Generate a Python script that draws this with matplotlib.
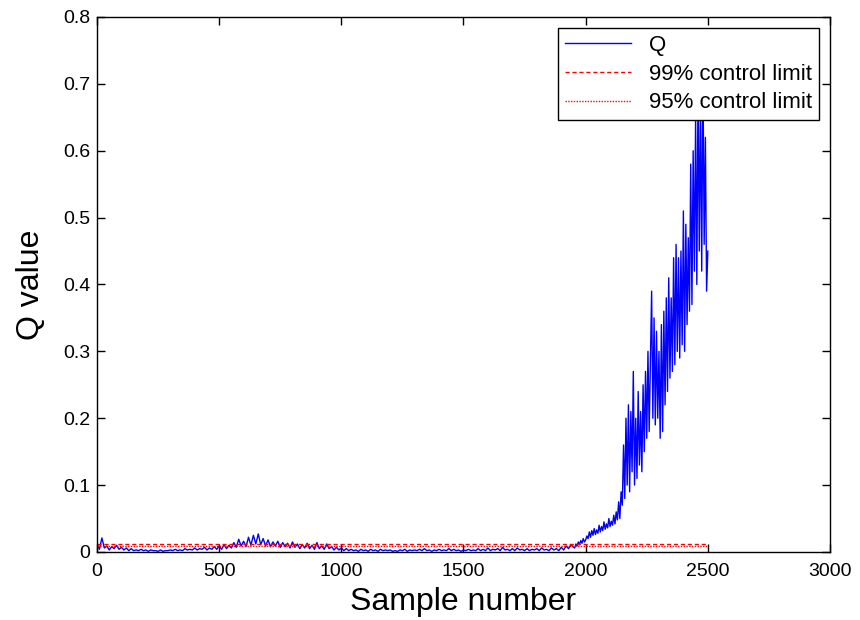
import numpy as np
import matplotlib
matplotlib.use("Agg")
import matplotlib.pyplot as plt

plt.rcParams['font.family'] = ['Liberation Sans', 'DejaVu Sans']

# Q statistic, normal operation, every 10 samples from 0 to 1950 (x 1e-3)
q_normal_milli = [
    12, 4, 21, 6, 9, 3, 8, 5, 10, 4,
    7, 3, 6, 2, 5, 2, 3, 2, 4, 2,
    3, 1, 3, 2, 2, 1, 3, 1, 2, 2,
    3, 2, 4, 2, 3, 2, 5, 3, 4, 3,
    6, 3, 5, 4, 7, 3, 6, 4, 8, 4,
    9, 4, 11, 5, 10, 6, 14, 7, 19, 9,
    16, 8, 22, 10, 25, 12, 27, 11, 20, 9,
    18, 8, 15, 9, 16, 7, 14, 8, 13, 6,
    15, 7, 12, 5, 11, 6, 13, 5, 10, 4,
    14, 5, 9, 4, 12, 5, 8, 3, 7, 3,
    6, 2, 5, 2, 4, 2, 3, 1, 4, 2,
    3, 1, 4, 2, 3, 1, 4, 2, 3, 2,
    3, 1, 2, 1, 3, 2, 4, 1, 3, 2,
    3, 2, 4, 2, 5, 2, 3, 1, 3, 2,
    4, 2, 3, 2, 5, 2, 4, 2, 3, 1,
    3, 2, 4, 2, 3, 2, 5, 2, 4, 2,
    6, 2, 4, 3, 5, 2, 7, 3, 4, 2,
    5, 2, 6, 3, 4, 2, 5, 2, 4, 3,
    5, 2, 6, 3, 4, 2, 6, 3, 5, 2,
    7, 3, 9, 5, 11, 7,
]
normal_start, normal_step = 0, 10

# Q statistic after the fault, every 5 samples from 1955 to 2500
q_fault = [
    0.006, 0.012, 0.009, 0.015, 0.011, 0.017, 0.013, 0.020, 0.015,
    0.018, 0.024, 0.020, 0.030, 0.022, 0.032, 0.025, 0.035, 0.026, 0.033,
    0.028, 0.040, 0.030, 0.038, 0.032, 0.045, 0.034, 0.042, 0.036, 0.050,
    0.038, 0.046, 0.040, 0.055, 0.042, 0.060, 0.048, 0.075, 0.050, 0.090,
    0.070, 0.160, 0.080, 0.200, 0.100, 0.220, 0.090, 0.210, 0.120, 0.270,
    0.100, 0.200, 0.110, 0.240, 0.130, 0.210, 0.120, 0.250, 0.150, 0.270,
    0.170, 0.300, 0.180, 0.290, 0.390, 0.200, 0.350, 0.190, 0.330, 0.200,
    0.300, 0.170, 0.340, 0.180, 0.360, 0.220, 0.380, 0.240, 0.410, 0.260,
    0.380, 0.270, 0.440, 0.280, 0.460, 0.300, 0.440, 0.290, 0.450, 0.310,
    0.510, 0.300, 0.490, 0.340, 0.470, 0.360, 0.580, 0.370, 0.600, 0.420,
    0.650, 0.400, 0.700, 0.450, 0.680, 0.420, 0.720, 0.460, 0.620, 0.390,
    0.450,
]
fault_start, fault_step = 1955, 5

limit_99 = 0.0125
limit_95 = 0.0085
limit_span = [0, 2500]

x_normal = normal_start + normal_step * np.arange(len(q_normal_milli))
x_fault = fault_start + fault_step * np.arange(len(q_fault))
x = np.concatenate([x_normal, x_fault])
q = np.concatenate([np.array(q_normal_milli) / 1000.0, q_fault])

fig = plt.figure(figsize=(8.6, 6.2), dpi=100)
ax = fig.add_axes([0.1128, 0.1097, 0.8523, 0.8629])

ax.plot(x, q, color='#0000ff', lw=1.0, label='Q')
ax.plot(limit_span, [limit_99] * 2, color='red', ls=(0, (3, 2)), lw=1.0,
        label='99% control limit')
ax.plot(limit_span, [limit_95] * 2, color='red', ls=(0, (1, 1)), lw=1.0,
        label='95% control limit')

ax.set_xlim(0, 3000)
ax.set_ylim(0, 0.8)
ax.set_xticks(np.arange(0, 3001, 500))
ax.set_yticks(np.arange(0, 0.81, 0.1))
ax.set_yticklabels(['0', '0.1', '0.2', '0.3', '0.4', '0.5', '0.6', '0.7', '0.8'])
ax.tick_params(direction='in', top=True, right=True, length=6, width=1,
               labelsize=14)
ax.tick_params(axis='x', pad=8)
ax.tick_params(axis='y', pad=5)
for s in ax.spines.values():
    s.set_linewidth(1.0)

ax.set_xlabel('Sample number', fontsize=23, labelpad=5)
ax.set_ylabel('Q value', fontsize=23, labelpad=12)

leg = ax.legend(loc='upper right', fontsize=16, handlelength=3.0,
                fancybox=False, framealpha=1, edgecolor='black',
                borderaxespad=0.5, borderpad=0.3, labelspacing=0.35)
leg.get_frame().set_linewidth(1.0)

fig.savefig('out.png', dpi=100)
